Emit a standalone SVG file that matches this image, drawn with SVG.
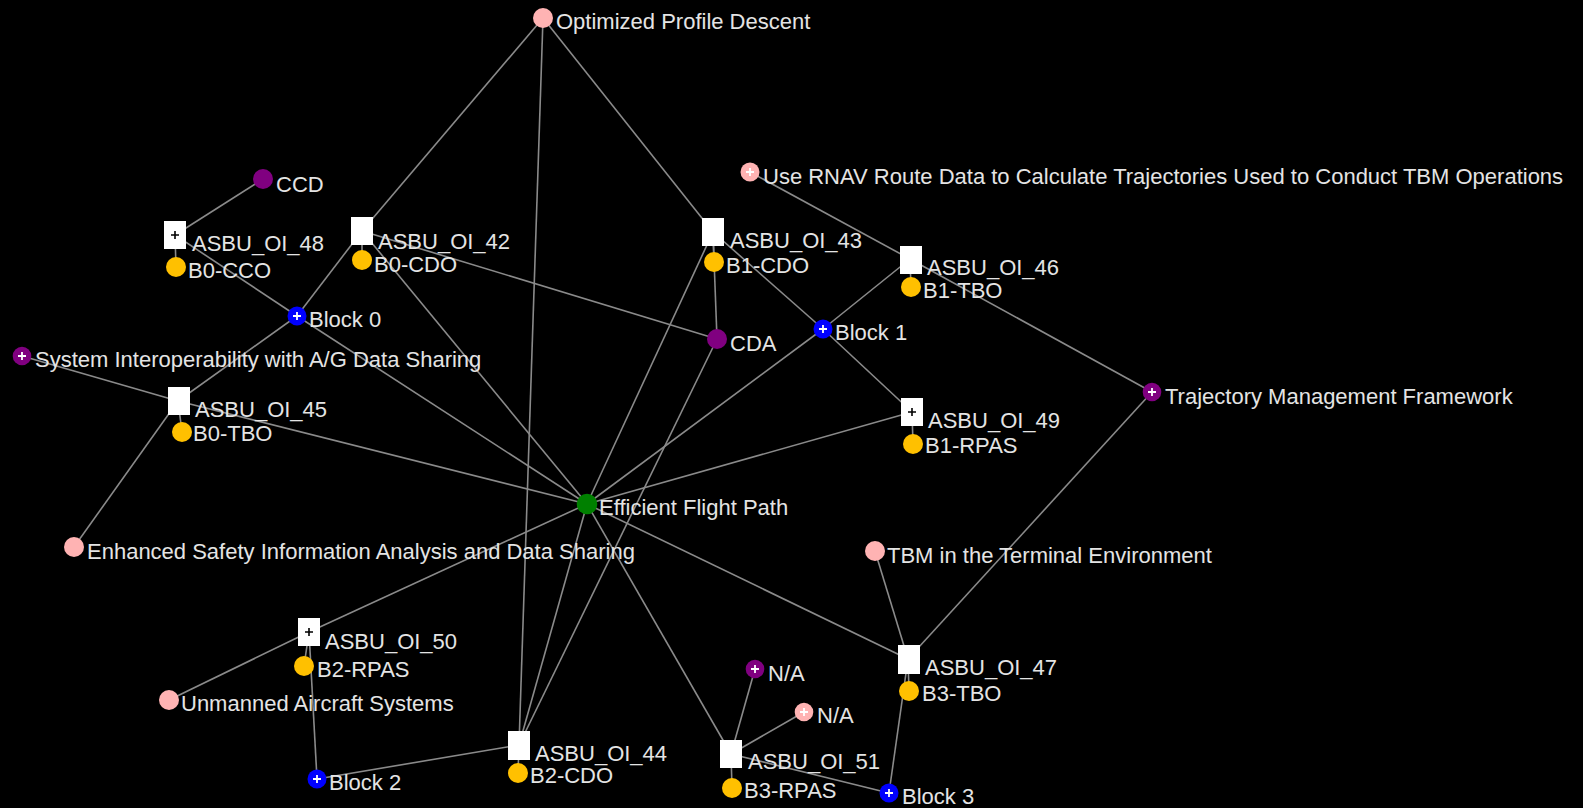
<svg xmlns="http://www.w3.org/2000/svg" width="1583" height="808" viewBox="0 0 1583 808">
<style>
.e{stroke:#8a8a8a;stroke-width:1.6;fill:none}
text{font-family:"Liberation Sans",Arial,sans-serif;font-size:22px;fill:#e4e4e4}
.oi{fill:#ffffff}
.gold{fill:#ffc000}
.pink{fill:#ffb3b3}
.purple{fill:#800080}
.blue{fill:#0000ff}
.green{fill:#008000}
.pw{stroke:#ffffff;stroke-width:1.8;fill:none}
.pb{stroke:#000000;stroke-width:1.6;fill:none}
</style>
<rect width="1583" height="808" fill="#000000"/>
<g id="connectors">
<line class="e" x1="543" y1="18" x2="362" y2="231"/>
<line class="e" x1="543" y1="18" x2="713" y2="232"/>
<line class="e" x1="543" y1="18" x2="519" y2="745"/>
<line class="e" x1="263" y1="179" x2="175" y2="235"/>
<line class="e" x1="175" y1="235" x2="297" y2="316"/>
<line class="e" x1="297" y1="316" x2="587" y2="504"/>
<line class="e" x1="362" y1="231" x2="297" y2="316"/>
<line class="e" x1="362" y1="231" x2="717" y2="339"/>
<line class="e" x1="362" y1="231" x2="587" y2="504"/>
<line class="e" x1="297" y1="316" x2="178" y2="401"/>
<line class="e" x1="22" y1="356" x2="178" y2="401"/>
<line class="e" x1="178" y1="401" x2="587" y2="504"/>
<line class="e" x1="74" y1="547" x2="178" y2="401"/>
<line class="e" x1="713" y1="232" x2="717" y2="339"/>
<line class="e" x1="713" y1="232" x2="823" y2="329"/>
<line class="e" x1="713" y1="232" x2="587" y2="504"/>
<line class="e" x1="823" y1="329" x2="910" y2="259"/>
<line class="e" x1="823" y1="329" x2="912" y2="412"/>
<line class="e" x1="823" y1="329" x2="587" y2="504"/>
<line class="e" x1="750" y1="172" x2="910" y2="259"/>
<line class="e" x1="910" y1="259" x2="1152" y2="392"/>
<line class="e" x1="912" y1="412" x2="587" y2="504"/>
<line class="e" x1="1152" y1="392" x2="908" y2="659"/>
<line class="e" x1="875" y1="551" x2="908" y2="659"/>
<line class="e" x1="587" y1="504" x2="908" y2="659"/>
<line class="e" x1="587" y1="504" x2="731" y2="754"/>
<line class="e" x1="587" y1="504" x2="519" y2="745"/>
<line class="e" x1="717" y1="339" x2="519" y2="745"/>
<line class="e" x1="587" y1="504" x2="309" y2="632"/>
<line class="e" x1="169" y1="700" x2="309" y2="632"/>
<line class="e" x1="309" y1="632" x2="317" y2="779"/>
<line class="e" x1="519" y1="745" x2="317" y2="779"/>
<line class="e" x1="908" y1="659" x2="889" y2="793"/>
<line class="e" x1="731" y1="754" x2="889" y2="793"/>
<line class="e" x1="731" y1="754" x2="755" y2="669"/>
<line class="e" x1="731" y1="754" x2="804" y2="712"/>
<line class="e" x1="175" y1="235" x2="176" y2="267"/>
<line class="e" x1="362" y1="231" x2="362" y2="260"/>
<line class="e" x1="713" y1="232" x2="714" y2="262"/>
<line class="e" x1="910" y1="259" x2="911" y2="287"/>
<line class="e" x1="178" y1="401" x2="182" y2="432"/>
<line class="e" x1="912" y1="412" x2="913" y2="444"/>
<line class="e" x1="309" y1="632" x2="304" y2="666"/>
<line class="e" x1="519" y1="745" x2="518" y2="773"/>
<line class="e" x1="908" y1="659" x2="909" y2="691"/>
<line class="e" x1="731" y1="754" x2="732" y2="788"/>
</g>
<g id="n-opd"><circle class="pink" cx="543" cy="18" r="10"/><text x="556" y="29">Optimized Profile Descent</text></g>
<g id="n-ccd"><circle class="purple" cx="263" cy="179" r="10"/><text x="276" y="192">CCD</text></g>
<g id="n-oi48"><rect class="oi" x="164" y="221" width="22" height="28"/><path class="pb" d="M171 235h8M175 231v8"/><text x="192" y="251">ASBU_OI_48</text></g>
<g id="n-b0cco"><circle class="gold" cx="176" cy="267" r="10"/><text x="188" y="278">B0-CCO</text></g>
<g id="n-oi42"><rect class="oi" x="351" y="217" width="22" height="28"/><text x="378" y="249">ASBU_OI_42</text></g>
<g id="n-b0cdo"><circle class="gold" cx="362" cy="260" r="10"/><text x="374" y="272">B0-CDO</text></g>
<g id="n-block0"><circle class="blue" cx="297" cy="316" r="9.5"/><path class="pw" d="M293 316h8M297 312v8"/><text x="309" y="327">Block 0</text></g>
<g id="n-oi43"><rect class="oi" x="702" y="218" width="22" height="28"/><text x="730" y="248">ASBU_OI_43</text></g>
<g id="n-b1cdo"><circle class="gold" cx="714" cy="262" r="10"/><text x="726" y="273">B1-CDO</text></g>
<g id="n-cda"><circle class="purple" cx="717" cy="339" r="10"/><text x="730" y="351">CDA</text></g>
<g id="n-block1"><circle class="blue" cx="823" cy="329" r="9.5"/><path class="pw" d="M819 329h8M823 325v8"/><text x="835" y="340">Block 1</text></g>
<g id="n-oi46"><rect class="oi" x="900" y="246" width="22" height="28"/><text x="927" y="275">ASBU_OI_46</text></g>
<g id="n-b1tbo"><circle class="gold" cx="911" cy="287" r="10"/><text x="923" y="298">B1-TBO</text></g>
<g id="n-urnav"><circle class="pink" cx="750" cy="172" r="9.5"/><path class="pw" d="M746 172h8M750 168v8"/><text x="763" y="184">Use RNAV Route Data to Calculate Trajectories Used to Conduct TBM Operations</text></g>
<g id="n-sysint"><circle class="purple" cx="22" cy="356" r="9.3"/><path class="pw" d="M18 356h8M22 352v8"/><text x="35" y="367">System Interoperability with A/G Data Sharing</text></g>
<g id="n-oi45"><rect class="oi" x="168" y="387" width="22" height="28"/><text x="195" y="417">ASBU_OI_45</text></g>
<g id="n-b0tbo"><circle class="gold" cx="182" cy="432" r="10"/><text x="193" y="441">B0-TBO</text></g>
<g id="n-oi49"><rect class="oi" x="901" y="398" width="22" height="28"/><path class="pb" d="M908 412h8M912 408v8"/><text x="928" y="428">ASBU_OI_49</text></g>
<g id="n-b1rpas"><circle class="gold" cx="913" cy="444" r="10"/><text x="925" y="453">B1-RPAS</text></g>
<g id="n-tmf"><circle class="purple" cx="1152" cy="392" r="9.3"/><path class="pw" d="M1148 392h8M1152 388v8"/><text x="1165" y="404">Trajectory Management Framework</text></g>
<g id="n-efp"><circle class="green" cx="587" cy="504" r="10.3"/><text x="599" y="515">Efficient Flight Path</text></g>
<g id="n-esia"><circle class="pink" cx="74" cy="547" r="10"/><text x="87" y="559">Enhanced Safety Information Analysis and Data Sharing</text></g>
<g id="n-tbm"><circle class="pink" cx="875" cy="551" r="10"/><text x="887" y="563">TBM in the Terminal Environment</text></g>
<g id="n-oi50"><rect class="oi" x="298" y="618" width="22" height="28"/><path class="pb" d="M305 632h8M309 628v8"/><text x="325" y="649">ASBU_OI_50</text></g>
<g id="n-b2rpas"><circle class="gold" cx="304" cy="666" r="10"/><text x="317" y="677">B2-RPAS</text></g>
<g id="n-uas"><circle class="pink" cx="169" cy="700" r="10"/><text x="181" y="711">Unmanned Aircraft Systems</text></g>
<g id="n-block2"><circle class="blue" cx="317" cy="779" r="9.5"/><path class="pw" d="M313 779h8M317 775v8"/><text x="329" y="790">Block 2</text></g>
<g id="n-oi44"><rect class="oi" x="508" y="731" width="22" height="29"/><text x="535" y="761">ASBU_OI_44</text></g>
<g id="n-b2cdo"><circle class="gold" cx="518" cy="773" r="10"/><text x="530" y="783">B2-CDO</text></g>
<g id="n-oi47"><rect class="oi" x="898" y="645" width="22" height="29"/><text x="925" y="675">ASBU_OI_47</text></g>
<g id="n-b3tbo"><circle class="gold" cx="909" cy="691" r="10"/><text x="922" y="701">B3-TBO</text></g>
<g id="n-na1"><circle class="purple" cx="755" cy="669" r="9.3"/><path class="pw" d="M751 669h8M755 665v8"/><text x="768" y="681">N/A</text></g>
<g id="n-na2"><circle class="pink" cx="804" cy="712" r="9.3"/><path class="pw" d="M800 712h8M804 708v8"/><text x="817" y="723">N/A</text></g>
<g id="n-oi51"><rect class="oi" x="720" y="740" width="22" height="28"/><text x="748" y="769">ASBU_OI_51</text></g>
<g id="n-b3rpas"><circle class="gold" cx="732" cy="788" r="10"/><text x="744" y="798">B3-RPAS</text></g>
<g id="n-block3"><circle class="blue" cx="889" cy="793" r="9.5"/><path class="pw" d="M885 793h8M889 789v8"/><text x="902" y="804">Block 3</text></g>
</svg>
